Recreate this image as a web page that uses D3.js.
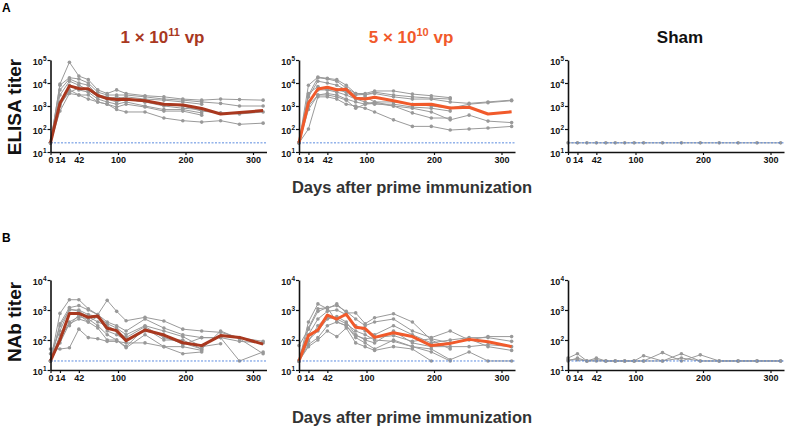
<!DOCTYPE html>
<html>
<head>
<meta charset="utf-8">
<script src="https://cdn.jsdelivr.net/npm/d3@7"></script>
<style>
  body { margin: 0; background: #fff; }
  svg { display: block; font-family: Arial, "Liberation Sans", sans-serif; }
</style>
</head>
<body>
<div id="chart"></div>
<script>
// Time points (days after prime immunization)
const days = [0, 14, 28, 42, 56, 70, 84, 98, 112, 140, 168, 196, 224, 252, 280, 315];
const xTicks = [0, 14, 42, 100, 200, 300];

// ELISA, 1e11 vp
const elisaHighMean = [25, 1300, 7500, 5800, 5600, 2900, 2100, 1900, 1950, 1700, 1200, 1100, 780, 450, 520, 630];
const elisaHighAnimals = [
  [25, 9000, 80000, 20000, 14000, 5000, 3500, 5000, 3500, 2800, 2500, 2000, 1800, 2000, 1900, 1800],
  [25, 8000, 17000, 15000, 10000, 4000, 3000, 3000, 3000, 2500, 2000, 1800, 1500, 1300, 1000, 1000],
  [25, 5000, 15000, 10000, 8000, 3000, 2500, 2000, 2500, 2000, 1800, 1500, 1200, null, null, null],
  [25, 3000, 12000, 8000, 5000, 2500, 2000, 1500, 2000, 1500, 1200, 1000, 600, 500, 450, 550],
  [25, 1500, 8000, 5000, 4000, 2000, 1500, 1200, 1500, 1000, 700, 700, 500, null, null, null],
  [25, 1000, 5000, 3000, 3000, 1500, 1200, 900, 1200, 900, 600, 600, 400, null, null, null],
  [25, 600, 3500, 3000, 2000, 1500, 1200, 700, 550, 550, 300, 230, 200, 230, 160, 180],
  [25, 1200, 4000, 6000, 5000, 3000, 2000, 2500, 2000, 1500, 1000, 800, 700, null, null, null]
];

// ELISA, 5e10 vp
const elisaMidMean = [25, 1350, 5500, 6500, 5100, 5300, 2200, 2000, 2400, 1700, 1150, 1200, 820, 880, 450, 560];
const elisaMidAnimals = [
  [25, 8000, 18000, 16000, 14000, 8000, 3500, 3500, 4500, 4500, 3300, 2800, 2300, null, null, null],
  [25, 3000, 17000, 15000, 12000, 6000, 3500, 3000, 4000, 3000, 2500, 2200, 2000, null, null, null],
  [25, 2500, 12000, 10000, 8000, 5000, 3000, 3200, 3500, 2500, 2000, 2000, 1500, 1300, 1500, 1800],
  [25, 1500, 5000, 5000, 4000, 3000, 2000, 2500, 1500, 1500, 1200, 1000, 800, 1200, 1400, 1700],
  [25, 1000, 3000, 3500, 3000, 2000, 1500, 1200, 1300, 1000, 500, 300, 300, null, null, null],
  [25, 700, 3000, 3000, 2500, 1800, 800, 1200, 1500, 1000, 800, 550, 250, 400, 220, 190],
  [25, 100, 2500, 2500, 2000, 1200, 1000, 800, 550, 250, 130, 130, 90, 100, 110, 130],
  [25, 3500, 7000, 5000, 5000, 4000, 2000, 1500, 1200, 1200, 900, 800, 600, null, null, null]
];

// ELISA, sham
const elisaShamAnimals = [
  [25, 25, 25, 25, 25, 25, 25, 25, 25, 25, 25, 25, 25, 25, 25, 25]
];

// NAb, 1e11 vp
const nabHighMean = [20, 100, 770, 770, 570, 630, 245, 205, 95, 215, 146, 81, 65, 140, 122, 73];
const nabHighAnimals = [
  [20, 770, 2200, 2200, 1100, 700, 2100, 900, 440, 570, 430, 230, 200, 180, 120, 90],
  [20, 350, 1200, 1400, 1000, 700, 400, 300, 200, 500, 250, 150, 120, 120, 90, 80],
  [20, 300, 1000, 1000, 700, 600, 350, 250, 150, 300, 200, 130, 60, 75, null, null],
  [20, 100, 400, 600, 500, 300, 150, 100, 60, 250, 100, 100, 50, null, null, null],
  [20, 80, 350, 500, 400, 250, 100, 100, 55, 150, 60, 60, 45, null, null, null],
  [50, 50, 55, 230, 120, 110, 90, 90, 80, 80, 60, 35, 40, null, null, null],
  [20, 150, 300, 700, 400, 600, 200, 150, 100, 200, 150, 70, 120, 120, 20, 40],
  [35, 200, 1100, 900, 600, 400, 300, 200, 120, 280, 120, 80, 50, 200, 110, 35]
];

// NAb, 5e10 vp
const nabMidMean = [20, 140, 215, 680, 500, 720, 265, 240, 122, 175, 130, 65, 77, 105, 88, 60];
const nabMidAnimals = [
  [20, 400, 1600, 1100, 1600, 800, 800, 350, 550, 750, 400, 100, 50, null, null, null],
  [20, 250, 1100, 1200, 1400, 900, 500, 300, 400, 500, 200, 120, 200, 100, 130, 130],
  [20, 150, 500, 900, 1000, 700, 300, 200, 150, 300, 150, 80, 100, 120, 120, 90],
  [20, 100, 200, 500, 600, 400, 150, 100, 80, 200, 80, 60, 60, 60, 70, 60],
  [20, 70, 120, 300, 400, 300, 120, 80, 50, 100, 60, 40, 20, null, null, null],
  [20, 60, 100, 200, 130, 250, 80, 60, 45, 60, 50, 20, null, null, null, null],
  [20, 90, 300, 600, 500, 350, 200, 150, 100, 90, 60, 50, 22, 40, 20, 20],
  [65, 230, 900, 1200, 400, 300, 140, 110, 120, 140, 90, 110, 80, 110, 60, 45]
];

// NAb, sham
const nabShamAnimals = [
  [25, 35, 20, 25, 20, 20, 20, 20, 20, 38, 20, 32, 20, 20, 20, 20],
  [20, 25, 20, 22, 20, 20, 20, 20, 30, 20, 35, 20, 20, 20, 20, 20],
  [22, 22, 20, 20, 20, 20, 20, 20, 20, 20, 25, 20, 20, 20, 20, 20]
];

const lodElisa = 25;
const lodNab = 20;

const W = 787, H = 428;
const svg = d3.select("#chart").append("svg")
    .attr("width", W)
    .attr("height", H);

const colX = [50.5, 299, 568];
const plotW = 216;
const rows = [
  { top: 60, bottom: 152, domain: [10, 1e5], lod: lodElisa, ylabel: "ELISA titer", ylabY: 107, letter: "A", letterY: 12, daysY: 193,
    panels: [
      { animals: elisaHighAnimals, mean: elisaHighMean, color: "#a9381f" },
      { animals: elisaMidAnimals, mean: elisaMidMean, color: "#f15a2b" },
      { animals: elisaShamAnimals, mean: null, color: null }
    ] },
  { top: 280, bottom: 370, domain: [10, 1e4], lod: lodNab, ylabel: "NAb titer", ylabY: 322, letter: "B", letterY: 242, daysY: 423,
    panels: [
      { animals: nabHighAnimals, mean: nabHighMean, color: "#a9381f" },
      { animals: nabMidAnimals, mean: nabMidMean, color: "#f15a2b" },
      { animals: nabShamAnimals, mean: null, color: null }
    ] }
];

// Column titles
const titles = [
  { base: "1 × 10", sup: "11", tail: " vp", color: "#a9381f" },
  { base: "5 × 10", sup: "10", tail: " vp", color: "#f15a2b" },
  { base: "Sham", sup: "", tail: "", color: "#111" }
];
titles.forEach((t, i) => {
    const txt = svg.append("text")
        .attr("x", colX[i] + 112)
        .attr("y", 43)
        .attr("text-anchor", "middle")
        .attr("font-size", "17px")
        .attr("font-weight", "bold")
        .attr("fill", t.color);
    txt.append("tspan").text(t.base);
    if (t.sup) {
        txt.append("tspan").attr("dy", -7).attr("font-size", "11px").text(t.sup);
        txt.append("tspan").attr("dy", 7).text(t.tail);
    }
});

rows.forEach(row => {
    const y = d3.scaleLog().domain(row.domain).range([row.bottom, row.top]);
    const decades = d3.range(Math.log10(row.domain[0]), Math.log10(row.domain[1]) + 1).map(e => Math.pow(10, e));

    // panel letter
    svg.append("text")
        .attr("x", 2).attr("y", row.letterY)
        .attr("font-size", "12px").attr("font-weight", "bold")
        .text(row.letter);

    // y label
    svg.append("text")
        .attr("transform", `translate(21,${row.ylabY}) rotate(-90)`)
        .attr("text-anchor", "middle")
        .attr("font-size", "19px").attr("font-weight", "bold")
        .attr("fill", "#111")
        .text(row.ylabel);

    // x label
    svg.append("text")
        .attr("x", 412).attr("y", row.daysY)
        .attr("text-anchor", "middle")
        .attr("font-size", "16.5px").attr("font-weight", "bold")
        .attr("fill", "#333")
        .text("Days after prime immunization");

    row.panels.forEach((p, i) => {
        const x = d3.scaleLinear().domain([0, 320]).range([colX[i], colX[i] + plotW]);
        const g = svg.append("g");

        const line = d3.line()
            .defined(d => d[1] != null)
            .x(d => x(d[0]))
            .y(d => y(d[1]));

        // individual animals
        p.animals.forEach(vals => {
            const pts = days.map((d, k) => [d, vals[k]]);
            g.append("path")
                .attr("d", line(pts))
                .attr("fill", "none")
                .attr("stroke", "#9a9a9a")
                .attr("stroke-width", 1);
            g.selectAll(null)
                .data(pts.filter(d => d[1] != null))
                .enter().append("circle")
                .attr("cx", d => x(d[0]))
                .attr("cy", d => y(d[1]))
                .attr("r", 1.8)
                .attr("fill", "#999");
        });

        // group mean
        if (p.mean) {
            g.append("path")
                .attr("d", line(days.map((d, k) => [d, p.mean[k]])))
                .attr("fill", "none")
                .attr("stroke", p.color)
                .attr("stroke-width", 3)
                .attr("stroke-linejoin", "round");
        }

        // limit of detection
        g.append("line")
            .attr("x1", x(0)).attr("x2", x(320))
            .attr("y1", y(row.lod)).attr("y2", y(row.lod))
            .attr("stroke", "#4a7fdc")
            .attr("stroke-width", 0.9)
            .attr("stroke-dasharray", "2,1.5");

        // axes
        const xAxis = g.append("g")
            .attr("transform", `translate(0,${row.bottom})`)
            .call(d3.axisBottom(x).tickValues(xTicks).tickSize(3).tickSizeOuter(0).tickFormat(d3.format("d")));
        const yAxis = g.append("g")
            .attr("transform", `translate(${colX[i]},0)`)
            .call(d3.axisLeft(y).tickValues(decades).tickSize(3).tickSizeOuter(0).tickFormat(() => ""));

        [xAxis, yAxis].forEach(a => {
            a.select(".domain").attr("stroke", "#111").attr("stroke-width", 1.6);
            a.selectAll(".tick line").attr("stroke", "#111").attr("stroke-width", 1.2);
            a.selectAll(".tick text")
                .attr("font-size", "9px").attr("font-weight", "bold")
                .attr("font-family", "Arial, 'Liberation Sans', sans-serif")
                .attr("fill", "#111");
        });
        xAxis.selectAll(".tick text").attr("dy", "0.75em").attr("y", 4);

        yAxis.selectAll(".tick text").each(function (d) {
            const t = d3.select(this).attr("x", -4).attr("dy", "0.45em");
            t.text("10");
            t.append("tspan").attr("dy", "-0.55em").attr("font-size", "6.5px").text(Math.round(Math.log10(d)));
        });
    });
});
</script>
</body>
</html>
